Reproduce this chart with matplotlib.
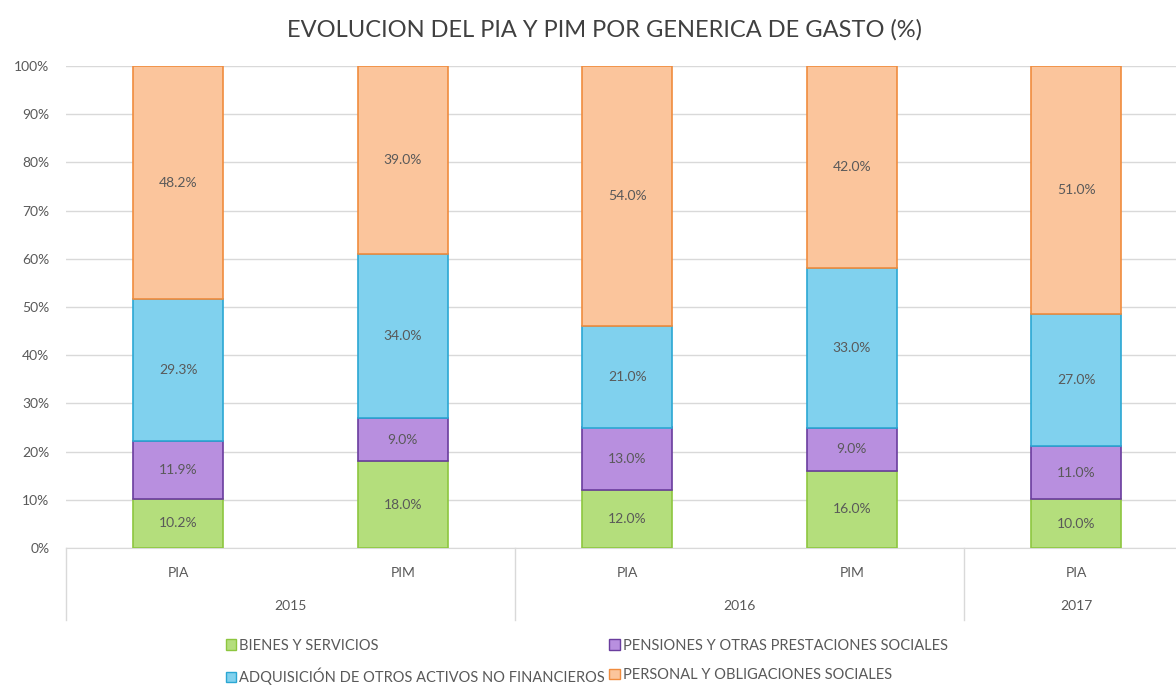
import matplotlib.pyplot as plt
import matplotlib.transforms as mtransforms
from matplotlib.patches import Patch

plt.rcParams['font.family'] = ['Lato', 'DejaVu Sans']

# datos
tipos = ['PIA', 'PIM', 'PIA', 'PIM', 'PIA']
anios = ['2015', '2016', '2017']
anio_pos = [0.5, 2.5, 4.0]
separadores = [-0.5, 1.5, 3.5]

bienes = [10.2, 18.0, 12.0, 16.0, 10.0]
pensiones = [11.9, 9.0, 13.0, 9.0, 11.0]
adquisicion = [29.3, 34.0, 21.0, 33.0, 27.0]
personal = [48.2, 39.0, 54.0, 42.0, 51.0]

series = [
    ('BIENES Y SERVICIOS', bienes, '#b4de7c', '#8dc63f'),
    ('PENSIONES Y OTRAS PRESTACIONES SOCIALES', pensiones, '#b88fdf', '#6a3d9e'),
    ('ADQUISICIÓN DE OTROS ACTIVOS NO FINANCIEROS', adquisicion, '#80d1ee', '#2ba7d3'),
    ('PERSONAL Y OBLIGACIONES SOCIALES', personal, '#fbc59c', '#f08c3e'),
]

totales = [sum(v) for v in zip(bienes, pensiones, adquisicion, personal)]

fig = plt.figure(figsize=(11.76, 6.86), dpi=100)
ax = fig.add_axes([66 / 1176, 138 / 686, 1122.5 / 1176, 482 / 686])

x = list(range(len(tipos)))
base = [0.0] * len(tipos)
handles = {}
for nombre, valores, color, borde in series:
    alturas = [v / t * 100 for v, t in zip(valores, totales)]
    ax.bar(x, alturas, width=0.4, bottom=base, color=color, edgecolor=borde,
           linewidth=1.2, zorder=3)
    for xi, b, h, v in zip(x, base, alturas, valores):
        ax.text(xi, b + h / 2, f'{v:.1f}%', ha='center', va='center',
                fontsize=10, color='#595959', zorder=4)
    base = [b + h for b, h in zip(base, alturas)]
    handles[nombre] = Patch(facecolor=color, edgecolor=borde, label=nombre)

ax.set_xlim(-0.5, 4.5)
ax.set_ylim(0, 100)
ax.set_yticks(range(0, 101, 10))
ax.set_yticklabels([f'{v}%' for v in range(0, 101, 10)], fontsize=10, color='#595959')
ax.yaxis.grid(True, color='#d9d9d9', linewidth=1, zorder=0)
ax.set_xticks([])
ax.tick_params(axis='y', length=0, pad=12)
for s in ['top', 'right', 'left']:
    ax.spines[s].set_visible(False)
ax.spines['bottom'].set_color('#d9d9d9')

# etiquetas de categorias en dos niveles
trans = mtransforms.blended_transform_factory(ax.transData, ax.transAxes)
for xi, t in zip(x, tipos):
    ax.text(xi, -0.052, t, transform=trans, ha='center', va='center',
            fontsize=10, color='#595959')
for xp, a in zip(anio_pos, anios):
    ax.text(xp, -0.12, a, transform=trans, ha='center', va='center',
            fontsize=10, color='#595959')
for xs in separadores:
    ax.plot([xs, xs], [0, -0.15], transform=trans, color='#d9d9d9',
            linewidth=1, clip_on=False)

fig.text(0.514, 1 - 30 / 686, 'EVOLUCION DEL PIA Y PIM POR GENERICA DE GASTO (%)',
         ha='center', va='center', fontsize=17, color='#404040')

orden = ['BIENES Y SERVICIOS', 'ADQUISICIÓN DE OTROS ACTIVOS NO FINANCIEROS',
         'PENSIONES Y OTRAS PRESTACIONES SOCIALES', 'PERSONAL Y OBLIGACIONES SOCIALES']
fig.legend(handles=[handles[n] for n in orden], ncol=2, loc='center',
           bbox_to_anchor=(0.499, 1 - 662 / 686), frameon=False, fontsize=10.5,
           handlelength=0.7, handleheight=0.7, handletextpad=0.2,
           columnspacing=0.3, labelspacing=1.05, labelcolor='#595959')

fig.savefig('out.png', dpi=100)
